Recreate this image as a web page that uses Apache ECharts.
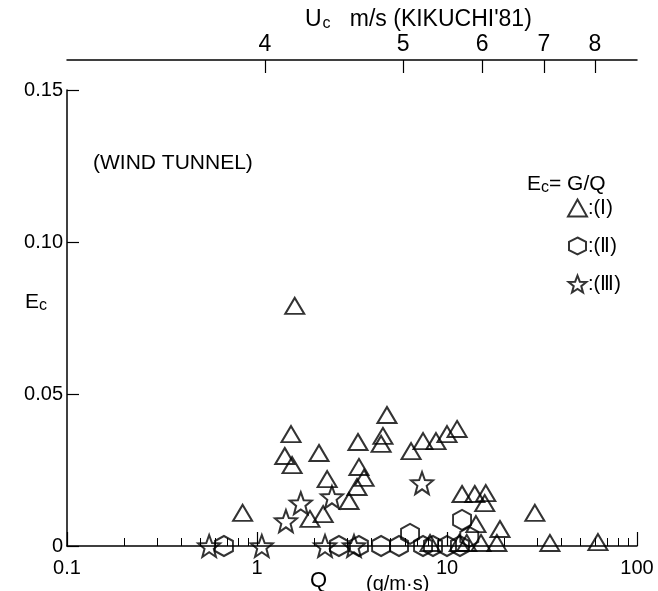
<!DOCTYPE html>
<html><head><meta charset="utf-8">
<script src="https://cdn.jsdelivr.net/npm/echarts@6/dist/echarts.min.js"></script>
<style>html,body{margin:0;padding:0;background:#fff}#c{width:658px;height:591px}</style>
</head><body><div id="c"></div>
<script>
// ---- data (Q in g/m·s, Ec dimensionless) ----
const typeI_Q = [1.58, 0.84, 1.51, 1.40, 1.53, 2.12, 2.34, 3.40, 3.44, 3.66, 3.36, 3.05, 2.23, 1.90,
  4.83, 4.60, 4.50, 6.47, 7.48, 8.75, 10.0, 11.3, 12.0, 14.0, 16.0, 15.8, 14.2, 19.0, 29.0,
  34.8, 62.3, 15.1, 18.3, 12.7, 8.14, 11.6];
const typeI_E = [0.079, 0.0109, 0.0368, 0.0296, 0.0266, 0.0306, 0.0220, 0.0342, 0.0260, 0.0224, 0.0194, 0.0148, 0.0105, 0.0089,
  0.0431, 0.0362, 0.0336, 0.0312, 0.0345, 0.0345, 0.0368, 0.0385, 0.0171, 0.0171, 0.0174, 0.0141, 0.0072, 0.0056, 0.0109,
  0.001, 0.0013, 0.001, 0.001, 0.001, 0.001, 0.001];
const typeII_Q = [0.67, 2.70, 3.44, 4.50, 5.59, 6.39, 7.48, 8.44, 10.0, 12.0, 13.1, 11.7];
const typeII_E = [0, 0, 0, 0, 0, 0.004, 0, 0, 0, 0.0086, 0.003, 0];
const typeIII_Q = [0.56, 1.06, 2.28, 3.24, 1.70, 1.42, 2.48, 7.39];
const typeIII_E = [0, 0, 0, 0, 0.0141, 0.0082, 0.0161, 0.0207];

const xMajorTicks = [0.1, 1, 10, 100];
const xMajorLabels = ['0.1', '1', '10', '100'];
const yTicks = [0, 0.05, 0.10, 0.15];
const yLabels = ['0', '0.05', '0.10', '0.15'];
const uTicks = [4, 5, 6, 7, 8];           // Uc (m/s), Kikuchi '81
const uTickQ = [1.10, 5.87, 15.3, 32.4, 60.0]; // corresponding Q positions

// ---- helpers ----
const FONT = 'Liberation Sans';
function starPath() {
  let d = '';
  for (let i = 0; i < 10; i++) {
    const r = i % 2 === 0 ? 50 : 21;
    const a = -Math.PI / 2 + i * Math.PI / 5;
    d += (i === 0 ? 'M' : 'L') + (50 + r * Math.cos(a)).toFixed(2) + ',' + (50 + r * Math.sin(a)).toFixed(2);
  }
  return 'path://' + d + 'Z';
}
const HEX = 'path://M50,0L100,25L100,75L50,100L0,75L0,25Z';
const STAR = starPath();
const zip = (a, b) => a.map((v, i) => [v, b[i]]);
const minorTicks = [];
[0.1, 1, 10].forEach(d => { for (let k = 2; k <= 9; k++) minorTicks.push(Math.log10(k * d)); });

const markerStyle = { color: 'rgba(0,0,0,0)', borderColor: '#000', borderWidth: 2 };
const txt = (size, extra) => Object.assign({ fontSize: size, fontFamily: FONT, color: '#000', fontWeight: 'normal' }, extra || {});

const chart = echarts.init(document.getElementById('c'));
chart.setOption({
  animation: false,
  backgroundColor: '#fff',
  textStyle: { fontFamily: FONT, color: '#000' },
  title: [
    { text: '{u|U}{s|c}{u|   m/s (KIKUCHI\'81)}', left: 300, top: 2,
      textStyle: { fontWeight: 'normal', rich: { u: txt(23), s: txt(16, { padding: [9, 0, 0, 1] }) } } },
    { text: '(WIND TUNNEL)', left: 88, top: 148, textStyle: txt(21) },
    { text: '{u|E}{s|c}{u|= G/Q}', left: 522, top: 167,
      textStyle: { fontWeight: 'normal', rich: { u: txt(21), s: txt(16, { padding: [8, 0, 0, 0] }) } } },
    { text: '{u|E}{s|c}', left: 20, top: 285,
      textStyle: { fontWeight: 'normal', rich: { u: txt(21), s: txt(16, { padding: [8, 0, 0, 0] }) } } },
    { text: 'Q', left: 305, top: 565, textStyle: txt(22) },
    { text: '(g/m·s)', left: 361, top: 569, textStyle: txt(20) }
  ],
  legend: {
    orient: 'vertical', left: 562, top: 193, itemGap: 18, itemWidth: 19, itemHeight: 17,
    textStyle: txt(20, { padding: [0, 0, 0, -4] }),
    formatter: n => ':' + n,
    data: [
      { name: '(Ⅰ)', icon: 'triangle', itemStyle: markerStyle },
      { name: '(Ⅱ)', icon: HEX, itemStyle: markerStyle },
      { name: '(Ⅲ)', icon: STAR, itemStyle: markerStyle }
    ]
  },
  grid: [
    { left: 67, right: 21, top: 90, bottom: 45 },
    { left: 67, right: 21, top: 60, height: 1 }
  ],
  xAxis: [
    { type: 'log', logBase: 10, min: 0.1, max: 100, gridIndex: 0,
      axisLine: { onZero: false, lineStyle: { color: '#000', width: 1.5 } },
      axisTick: { inside: true, length: 14, lineStyle: { color: '#000', width: 1.2 } },
      splitLine: { show: false },
      axisLabel: { fontSize: 20, color: '#000', fontFamily: FONT, margin: 12,
        formatter: v => xMajorLabels[xMajorTicks.findIndex(t => Math.abs(t - v) < 1e-9)] || '' } },
    { type: 'value', min: -1, max: 2, gridIndex: 0, position: 'bottom',
      axisLine: { show: false, onZero: false }, splitLine: { show: false }, axisLabel: { show: false },
      axisTick: { inside: true, length: 8, customValues: minorTicks, lineStyle: { color: '#000', width: 1 } } },
    { type: 'value', min: -1, max: 2, gridIndex: 1, position: 'top',
      axisLine: { onZero: false, lineStyle: { color: '#000', width: 1.5 } }, splitLine: { show: false },
      axisTick: { inside: true, length: 13, customValues: uTickQ.map(q => Math.log10(q)), lineStyle: { color: '#000', width: 1.2 } },
      axisLabel: { fontSize: 23, color: '#000', fontFamily: FONT, margin: 4,
        customValues: uTickQ.map(q => Math.log10(q)),
        formatter: v => { let bi = 0; uTickQ.forEach((q, i) => { if (Math.abs(Math.log10(q) - v) < Math.abs(Math.log10(uTickQ[bi]) - v)) bi = i; }); return String(uTicks[bi]); } } }
  ],
  yAxis: [
    { type: 'value', min: 0, max: 0.15, interval: 0.05, gridIndex: 0,
      axisLine: { show: true, onZero: false, lineStyle: { color: '#000', width: 1.5 } },
      axisTick: { show: true, inside: true, length: 12, lineStyle: { color: '#000', width: 1.2 } },
      splitLine: { show: false },
      axisLabel: { fontSize: 20, color: '#000', fontFamily: FONT, margin: 4, padding: [0, 0, 12, 0],
        formatter: v => yLabels[yTicks.findIndex(t => Math.abs(t - v) < 1e-9)] || '' } },
    { type: 'value', gridIndex: 1, show: false }
  ],
  series: [
    { name: '(Ⅰ)', type: 'scatter', xAxisIndex: 0, yAxisIndex: 0, symbol: 'triangle', symbolSize: [19, 16],
      itemStyle: markerStyle, data: zip(typeI_Q, typeI_E) },
    { name: '(Ⅱ)', type: 'scatter', xAxisIndex: 0, yAxisIndex: 0, symbol: HEX, symbolSize: [18, 20],
      itemStyle: markerStyle, data: zip(typeII_Q, typeII_E) },
    { name: '(Ⅲ)', type: 'scatter', xAxisIndex: 0, yAxisIndex: 0, symbol: STAR, symbolSize: [22, 22],
      itemStyle: markerStyle, data: zip(typeIII_Q, typeIII_E) }
  ]
});
</script></body></html>
